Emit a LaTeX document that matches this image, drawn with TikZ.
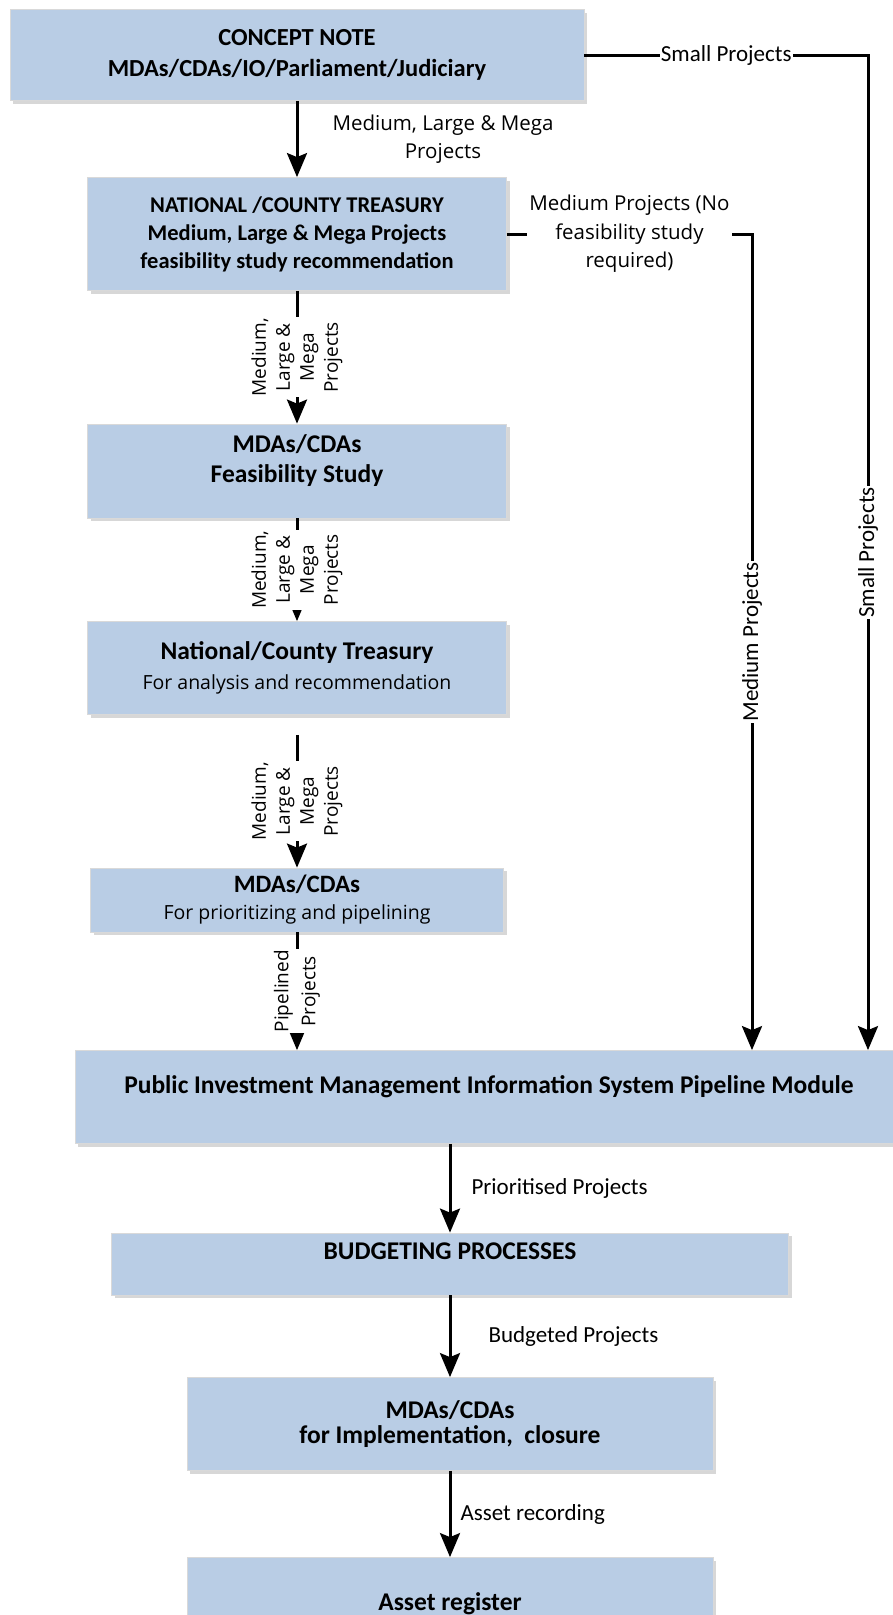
\documentclass[tikz,border=0pt]{standalone}
\usepackage{fontspec}
\setmainfont{Carlito}
\newfontfamily\osans{Open Sans}
\usepackage{tikz}
\usetikzlibrary{arrows.meta}
\usetikzlibrary{positioning}
\usetikzlibrary{shadows}
\definecolor{boxblue}{RGB}{185,205,229}
\tikzset{
  blk/.style={rectangle, fill=boxblue, draw=black!15, line width=0.8pt, inner sep=0pt, align=center,
    drop shadow={shadow xshift=3pt, shadow yshift=-3pt, fill=black!45, opacity=0.35}},
  arr/.style={line width=3pt, -{Stealth[length=24pt, width=20pt, inset=4pt]}},
  vlbl/.style={fill=white, rotate=90, align=center, inner sep=1pt, font=\osans\fontsize{19}{24}\selectfont},
  olbl/.style={fill=white, align=center, inner sep=2pt, font=\osans\fontsize{20.5}{28.5}\selectfont},
  clbl/.style={fill=white, inner sep=1pt, font=\fontsize{23}{27}\selectfont},
  crot/.style={clbl, rotate=90},
  tlbl/.style={inner sep=2pt, font=\fontsize{23}{27}\selectfont}
}
\begin{document}
\begin{tikzpicture}[x=1pt, y=-1pt]
\useasboundingbox (0,0) rectangle (893,1615);
\clip (0,0) rectangle (893,1615);
\node[blk, minimum width=574pt, minimum height=91pt, font=\fontsize{24.5}{31}\selectfont\bfseries] (00) at (297,55) {CONCEPT NOTE\\MDAs/CDAs/IO/Parliament/Judiciary};
\node[blk, minimum width=419pt, minimum height=113pt, font=\fontsize{22.5}{28}\selectfont\bfseries] (10) at (297,234) {NATIONAL /COUNTY TREASURY\\Medium, Large \& Mega Projects\\feasibility study recommendation};
\node[blk, minimum width=419pt, minimum height=94pt, font=\fontsize{25.5}{30}\selectfont\bfseries] (20) at (297,471) {MDAs/CDAs\\Feasibility Study\\[-6pt]\mbox{}};
\node[blk, minimum width=419pt, minimum height=93pt, font=\osans\fontsize{19.5}{30}\selectfont] (30) at (297,668) {\rmfamily\fontsize{25.5}{30}\selectfont\bfseries National/County Treasury\\For analysis and recommendation};
\node[blk, minimum width=413pt, minimum height=64pt, font=\osans\fontsize{19.5}{27}\selectfont] (40) at (297,900) {\rmfamily\fontsize{25}{27}\selectfont\bfseries MDAs/CDAs\\For prioritizing and pipelining};
\node[blk, minimum width=828pt, text height=43pt, text depth=50pt, font=\fontsize{25.5}{28}\selectfont\bfseries] (50) at (489,1097) {Public Investment Management Information System Pipeline Module};
\node[blk, minimum width=677pt, text height=26pt, text depth=36pt, font=\fontsize{25.5}{28}\selectfont\bfseries] (60) at (450,1264) {BUDGETING PROCESSES};
\node[blk, minimum width=526pt, minimum height=93pt, font=\fontsize{25.5}{25}\selectfont\bfseries] (70) at (450,1424) {MDAs/CDAs\\for Implementation,\ \ closure};
\node[blk, minimum width=526pt, minimum height=93pt, font=\fontsize{25.5}{25}\selectfont\bfseries] (80) at (450,1604) {Asset register};
\coordinate (0s) at (868,55);
\coordinate (1m) at (752,234);
\draw[arr] (00) to node[olbl, right=32pt, fill=none] {Medium, Large \& Mega\\Projects} (10);
\draw[arr] (10) to node[vlbl] {Medium,\\Large \&\\Mega\\Projects} (20);
\draw[arr] (20) to node[vlbl] {Medium,\\Large \&\\Mega\\Projects} (30);
\draw[arr] ([yshift=-20pt]30.south) to node[vlbl] {Medium,\\Large \&\\Mega\\Projects} (40);
\draw[arr] (40) to node[vlbl, font=\osans\fontsize{19}{27}\selectfont] {Pipelined\\Projects} (40 |- 50.north);
\draw[arr] (00.east) -- node[clbl] {Small Projects} (0s) -- node[crot] {Small Projects} (0s |- 50.north);
\draw[arr] (10.east) -- node[olbl] {Medium Projects (No\\feasibility study\\required)} (1m) -- node[crot] {Medium Projects} (1m |- 50.north);
\draw[arr] (50.south -| 60) to node[tlbl, right=18pt] {Prioritised Projects} (60);
\draw[arr] (60) to node[tlbl, right=35pt] {Budgeted Projects} (70);
\draw[arr] (70) to node[tlbl, right=7pt] {Asset recording} (80);
\end{tikzpicture}
\end{document}
